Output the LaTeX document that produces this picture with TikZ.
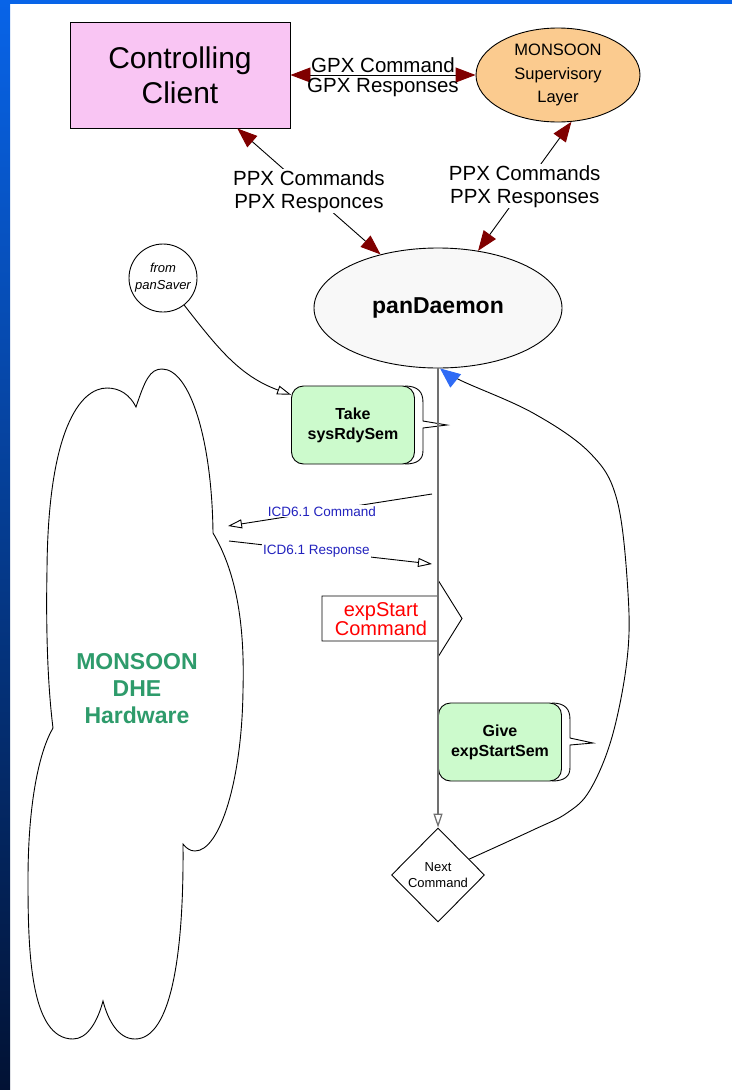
\documentclass[tikz,border=0pt]{standalone}
\usepackage{fontspec}
\setmainfont{Liberation Sans}
\usetikzlibrary{arrows.meta,shapes.geometric,calc}

\definecolor{framehi}{RGB}{8,100,232}
\definecolor{framelo}{RGB}{2,18,52}
\definecolor{clientpink}{RGB}{249,197,243}
\definecolor{superorange}{RGB}{251,203,143}
\definecolor{daemongray}{RGB}{248,248,248}
\definecolor{semgreen}{RGB}{204,250,204}
\definecolor{ppxred}{RGB}{128,0,0}
\definecolor{icdblue}{RGB}{34,34,190}
\definecolor{dhegreen}{RGB}{46,155,107}
\definecolor{loopblue}{RGB}{47,107,245}
\definecolor{lifegray}{RGB}{112,112,112}

\newcommand{\fsz}[2]{\fontsize{#1}{#2}\selectfont}

\begin{document}
\begin{tikzpicture}[x=1pt, y=-1pt, line width=0.9pt,
    sembox/.style={draw, rounded corners=12pt, fill=semgreen, minimum width=123pt,
        minimum height=78pt, align=center, font=\fsz{16}{20}\bfseries},
    ppx/.style={{Triangle[length=20pt,width=15pt,color=ppxred]}-{Triangle[length=20pt,width=15pt,color=ppxred]}},
    ppxlabel/.style={fill=white, inner sep=1pt, align=center, font=\fsz{20.5}{23}},
    opentip/.style={-{Triangle[length=14pt,width=9pt,fill=white]}},
    icdlabel/.style={fill=white, inner sep=1pt, text=icdblue, font=\fsz{13.5}{15}},
    life/.style={draw=lifegray, line width=1.2pt, -{Triangle[length=14pt,width=9pt,fill=white]}},
    loopback/.style={-{Triangle[length=20pt,width=17pt,color=loopblue]}}]

    \useasboundingbox (0,0) rectangle (732,1090);
    % slide frame
    \shade[top color=framehi, bottom color=framelo] (0,0) rectangle (10,1090);
    \fill[framehi] (0,0) rectangle (732,4);

    \node[draw, fill=clientpink, minimum width=220pt, minimum height=106pt,
        align=center, font=\fsz{30}{35}] (client) at (180,75) {Controlling\\Client};
    \node[ellipse, draw, fill=superorange, minimum width=164pt, minimum height=94pt,
        inner sep=0pt, align=center, font=\fsz{16.5}{23.5}] (super) at (558,75) {MONSOON\\Supervisory\\Layer};
    \node[ellipse, draw, fill=daemongray, minimum width=248pt, minimum height=120pt,
        font=\fsz{23}{25}\bfseries] (daemon) at (438,308) {panDaemon};
    \node[circle, draw, minimum size=68pt, inner sep=0pt, align=center,
        font=\fsz{13}{17}\itshape] (saver) at (163,278) {from\\panSaver};
    \node[sembox] (take) at (353,425) {Take\\sysRdySem};
    \node[sembox] (give) at (500,742) {Give\\expStartSem};
    \node[diamond, draw, fill=white, minimum width=93pt, minimum height=94pt,
        inner sep=0pt, align=center, font=\fsz{13}{16}] (next) at (438,875) {Next\\Command};

    % hardware cloud
    \draw (136,407) .. controls (145,380) and (150,369) .. (162,369)
        .. controls (190,369) and (212,440) .. (213,533)
        .. controls (235,570) and (245,620) .. (243,690)
        .. controls (242,780) and (220,851) .. (195,851)
        .. controls (190,851) and (186,848) .. (183,844)
        .. controls (184,950) and (172,1039) .. (135,1039)
        .. controls (118,1039) and (108,1020) .. (103,1001)
        .. controls (98,1020) and (88,1039) .. (73,1039)
        .. controls (30,1039) and (28,950) .. (28,880)
        .. controls (28,800) and (40,750) .. (53,728)
        .. controls (47,680) and (46,620) .. (47,570)
        .. controls (48,430) and (80,388) .. (107,388)
        .. controls (120,388) and (130,395) .. (136,407) -- cycle;
    \node[text=dhegreen, align=center, font=\fsz{23}{27}\bfseries] (dhe) at (137,689) {MONSOON\\DHE\\Hardware};

    % command arrow
    \draw[fill=white] (322,596) -- (438,596) -- (438,580) -- (462,618.5)
        -- (438,657) -- (438,641) -- (322,641) -- cycle;
    \node[text=red, align=center, font=\fsz{20}{19}] (expstart) at (381,619) {expStart\\Command};

    % semaphore tails
    \draw[shift={(take.east)}] (-10,-39) .. controls (3,-39) and (8,-33) .. (8,-23)
        -- (8,-4) -- (32,0) -- (8,3) -- (8,26) .. controls (8,34) and (3,39) .. (-10,39);
    \draw[shift={(give.east)}] (-10,-39) .. controls (3,-39) and (8,-33) .. (8,-23)
        -- (8,-4) -- (31,1) -- (8,3) -- (8,26) .. controls (8,34) and (3,39) .. (-10,39);

    \draw[ppx] (client.east) -- node[above=-1pt, font=\fsz{20.5}{23}] {GPX Command}
        node[below=-1pt, font=\fsz{20.5}{23}] {GPX Responses} (super.west);
    \draw[ppx] (client.-43) -- node[ppxlabel] {PPX Commands\\PPX Responces} (daemon.137);
    \draw[ppx] (super.-74) -- node[ppxlabel] {PPX Commands\\PPX Responses} (daemon.55);

    \draw[opentip] (saver.-52) to[out=-52, in=160] (take.154);

    \coordinate (cmdfrom) at (432,494);
    \coordinate (cmdto) at (228,526);
    \coordinate (rspfrom) at (229,541);
    \coordinate (rspto) at (432,564);
    \draw[opentip] (cmdfrom) -- node[icdlabel, pos=0.54] {ICD6.1 Command} (cmdto);
    \draw[opentip] (rspfrom) -- node[icdlabel, pos=0.43] {ICD6.1 Response} (rspto);

    \draw[life] (daemon.south) -- (next.north);

    \draw[loopback] plot[smooth, tension=0.6] coordinates {(next.27) (533,830) (567,813)
        (590,790) (612,737) (627,660) (628,593) (617,500) (590,453) (533,413) (462,381)
        (daemon.-88)};
\end{tikzpicture}
\end{document}
